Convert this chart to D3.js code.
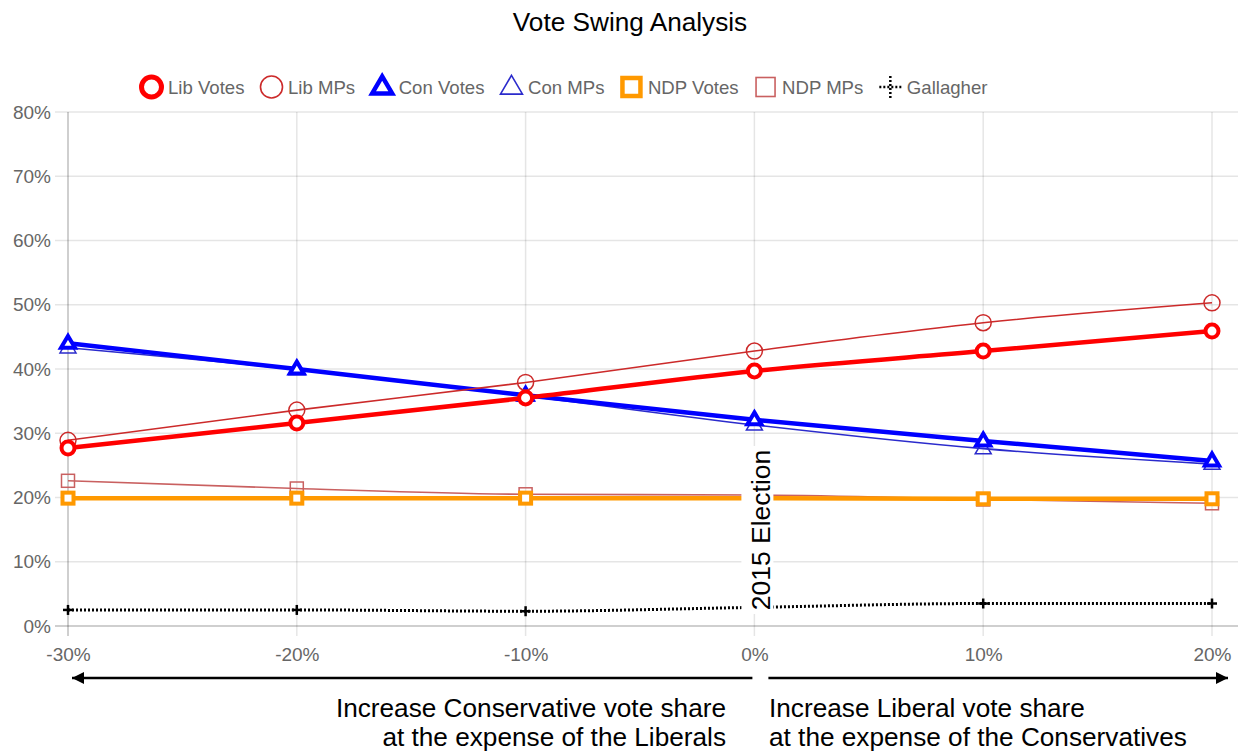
<!DOCTYPE html>
<html>
<head>
<meta charset="utf-8">
<script src="https://cdn.jsdelivr.net/npm/d3@7"></script>
<style>
  html, body { margin: 0; padding: 0; background: #fff; }
  svg { display: block; font-family: "Liberation Sans", Arial, Helvetica, sans-serif; }
</style>
</head>
<body>
<svg id="chart" width="1238" height="753"></svg>
<script>
// ---- data ----
const swings = [-30, -20, -10, 0, 10, 20];
const yTicks = [0, 10, 20, 30, 40, 50, 60, 70, 80];
const libVotes = [27.7, 31.6, 35.5, 39.7, 42.8, 45.9];
const libMPs = [28.9, 33.6, 37.9, 42.8, 47.2, 50.3];
const conVotes = [44.0, 40.0, 35.9, 32.1, 28.8, 25.7];
const conMPs = [43.3, 39.9, 35.8, 31.3, 27.6, 25.2];
const ndpVotes = [19.9, 19.9, 19.9, 19.9, 19.8, 19.8];
const ndpMPs = [22.6, 21.4, 20.5, 20.4, 19.7, 19.1];
const gallagher = [2.5, 2.5, 2.3, 2.9, 3.5, 3.5];
const seriesNames = ["Lib Votes", "Lib MPs", "Con Votes", "Con MPs", "NDP Votes", "NDP MPs", "Gallagher"];
const titleText = "Vote Swing Analysis";
const annotationText = "2015 Election";
const leftNote = ["Increase Conservative vote share", "at the expense of the Liberals"];
const rightNote = ["Increase Liberal vote share", "at the expense of the Conservatives"];

// ---- styles ----
const styles = [
  { values: libVotes, color: "#ff0000", width: 4.5, shape: "circle", size: 6.5, pw: 4, lr: 10, lw: 5 },
  { values: libMPs, color: "#cc2a2a", width: 1.6, shape: "circle", size: 8, pw: 1.5, lr: 11, lw: 1.6 },
  { values: conVotes, color: "#0000ff", width: 4.5, shape: "triangle", size: 7, pw: 4, lr: 10, lw: 4.5 },
  { values: conMPs, color: "#2b2bcc", width: 1.6, shape: "triangle", size: 8, pw: 1.5, lr: 11, lw: 1.6 },
  { values: ndpVotes, color: "#ff9900", width: 4.5, shape: "square", size: 5.5, pw: 4, lr: 9, lw: 4.5 },
  { values: ndpMPs, color: "#c96060", width: 1.6, shape: "square", size: 6.5, pw: 1.5, lr: 9.5, lw: 1.6 },
  { values: gallagher, color: "#000000", width: 3, shape: "cross", size: 5, pw: 2.5, lr: 11, lw: 2.5, dash: "2,2" }
];

const svg = d3.select("#chart");
const W = 1238, H = 753;
const pL = 68, pR = 1212, pT = 112, pB = 626;
const x = d3.scaleLinear().domain([-30, 20]).range([pL, pR]);
const y = d3.scaleLinear().domain([0, 80]).range([pB, pT]);

// title
svg.append("text").attr("x", 630).attr("y", 31).attr("text-anchor", "middle")
  .attr("font-size", 26.2).attr("fill", "#000").text(titleText);

// grid
const grid = svg.append("g");
grid.selectAll("line.h").data(yTicks).enter().append("line")
  .attr("x1", pL - 13).attr("x2", W)
  .attr("y1", d => y(d)).attr("y2", d => y(d))
  .attr("stroke", d => d === 0 ? "rgba(0,0,0,0.25)" : "rgba(0,0,0,0.1)").attr("stroke-width", 1.5);
grid.selectAll("line.v").data(swings).enter().append("line")
  .attr("y1", pT).attr("y2", pB + 10)
  .attr("x1", d => x(d)).attr("x2", d => x(d))
  .attr("stroke", d => d === -30 ? "rgba(0,0,0,0.25)" : "rgba(0,0,0,0.1)").attr("stroke-width", 1.5);

// tick labels
const yAxis = d3.axisLeft(y).tickValues(yTicks).tickFormat(d => d + "%").tickSize(0).tickPadding(17);
const yg = svg.append("g").attr("transform", `translate(${pL},0)`).call(yAxis);
yg.select(".domain").remove();
yg.selectAll("text").attr("font-size", 19).attr("fill", "#666").attr("font-family", "Liberation Sans, Arial, sans-serif");

const xAxis = d3.axisBottom(x).tickValues(swings).tickFormat(d => d + "%").tickSize(0).tickPadding(22);
const xg = svg.append("g").attr("transform", `translate(0,${pB})`).call(xAxis);
xg.select(".domain").remove();
xg.selectAll("text").attr("font-size", 19).attr("fill", "#666").attr("font-family", "Liberation Sans, Arial, sans-serif");

// marker drawing
function drawMarker(g, s, cx, cy, r, sw, legend) {
  const fill = (s.width > 3 && s.shape !== "cross") ? "#fff" : "none";
  if (s.shape === "circle") {
    g.append("circle").attr("cx", cx).attr("cy", cy).attr("r", r)
      .attr("fill", fill).attr("stroke", s.color).attr("stroke-width", sw);
  } else if (s.shape === "triangle") {
    const h = r * 1.7;
    const pts = [[cx, cy - h * 0.62], [cx + r, cy + h * 0.38], [cx - r, cy + h * 0.38]];
    g.append("polygon").attr("points", pts.map(p => p.join(",")).join(" "))
      .attr("fill", fill).attr("stroke", s.color).attr("stroke-width", sw).attr("stroke-linejoin", "miter");
  } else if (s.shape === "square") {
    g.append("rect").attr("x", cx - r).attr("y", cy - r).attr("width", 2 * r).attr("height", 2 * r)
      .attr("fill", fill).attr("stroke", s.color).attr("stroke-width", sw);
  } else {
    const dash = legend ? "2,2" : null;
    g.append("line").attr("x1", cx - r).attr("x2", cx + r).attr("y1", cy).attr("y2", cy)
      .attr("stroke", s.color).attr("stroke-width", sw).attr("stroke-dasharray", dash);
    g.append("line").attr("x1", cx).attr("x2", cx).attr("y1", cy - r).attr("y2", cy + r)
      .attr("stroke", s.color).attr("stroke-width", sw).attr("stroke-dasharray", dash);
  }
}

// series (drawn in reverse so first dataset is on top)
const line = d3.line().x((d, i) => x(swings[i])).y(d => y(d)).curve(d3.curveMonotoneX);
const plot = svg.append("g");
styles.slice().reverse().forEach(s => {
  const g = plot.append("g");
  g.append("path").attr("d", line(s.values)).attr("fill", "none")
    .attr("stroke", s.color).attr("stroke-width", s.width)
    .attr("stroke-dasharray", s.dash || null);
  s.values.forEach((v, i) => drawMarker(g, s, x(swings[i]), y(v), s.size, s.pw, false));
});

// annotation at 0%
const ax = x(0);
svg.append("rect").attr("x", ax - 13).attr("y", 446).attr("width", 32).attr("height", 168).attr("fill", "#fff");
svg.append("text").attr("transform", `translate(${ax + 16},${530}) rotate(-90)`)
  .attr("text-anchor", "middle").attr("font-size", 26.5).attr("fill", "#000").text(annotationText);

// legend
const legend = svg.append("g");
let lx = 140;
const ly = 87;
styles.forEach((s, i) => {
  const mw = 23;
  const cx = lx + mw / 2;
  drawMarker(legend, s, cx, ly, s.lr, s.lw, true);
  const t = legend.append("text").attr("x", lx + mw + 5).attr("y", ly).attr("dy", "0.35em")
    .attr("font-size", 18.6).attr("fill", "#666").text(seriesNames[i]);
  lx = lx + mw + 5 + t.node().getComputedTextLength() + 15.5;
});

// arrows
const defs = svg.append("defs");
defs.append("marker").attr("id", "ah").attr("viewBox", "0 0 10 10").attr("refX", 10).attr("refY", 5)
  .attr("markerWidth", 16).attr("markerHeight", 12).attr("markerUnits", "userSpaceOnUse").attr("orient", "auto")
  .append("path").attr("d", "M0,0 L10,5 L0,10 Z").attr("fill", "#000");
const arY = 678;
svg.append("line").attr("x1", ax - 2).attr("x2", 72).attr("y1", arY).attr("y2", arY)
  .attr("stroke", "#000").attr("stroke-width", 2.5).attr("marker-end", "url(#ah)");
svg.append("line").attr("x1", ax + 14).attr("x2", 1228).attr("y1", arY).attr("y2", arY)
  .attr("stroke", "#000").attr("stroke-width", 2.5).attr("marker-end", "url(#ah)");

// notes
leftNote.forEach((t, i) => svg.append("text").attr("x", 726).attr("y", 717 + i * 29)
  .attr("text-anchor", "end").attr("font-size", 26.2).attr("fill", "#000").text(t));
rightNote.forEach((t, i) => svg.append("text").attr("x", 769).attr("y", 717 + i * 29)
  .attr("text-anchor", "start").attr("font-size", 26.2).attr("fill", "#000").text(t));
</script>
</body>
</html>
